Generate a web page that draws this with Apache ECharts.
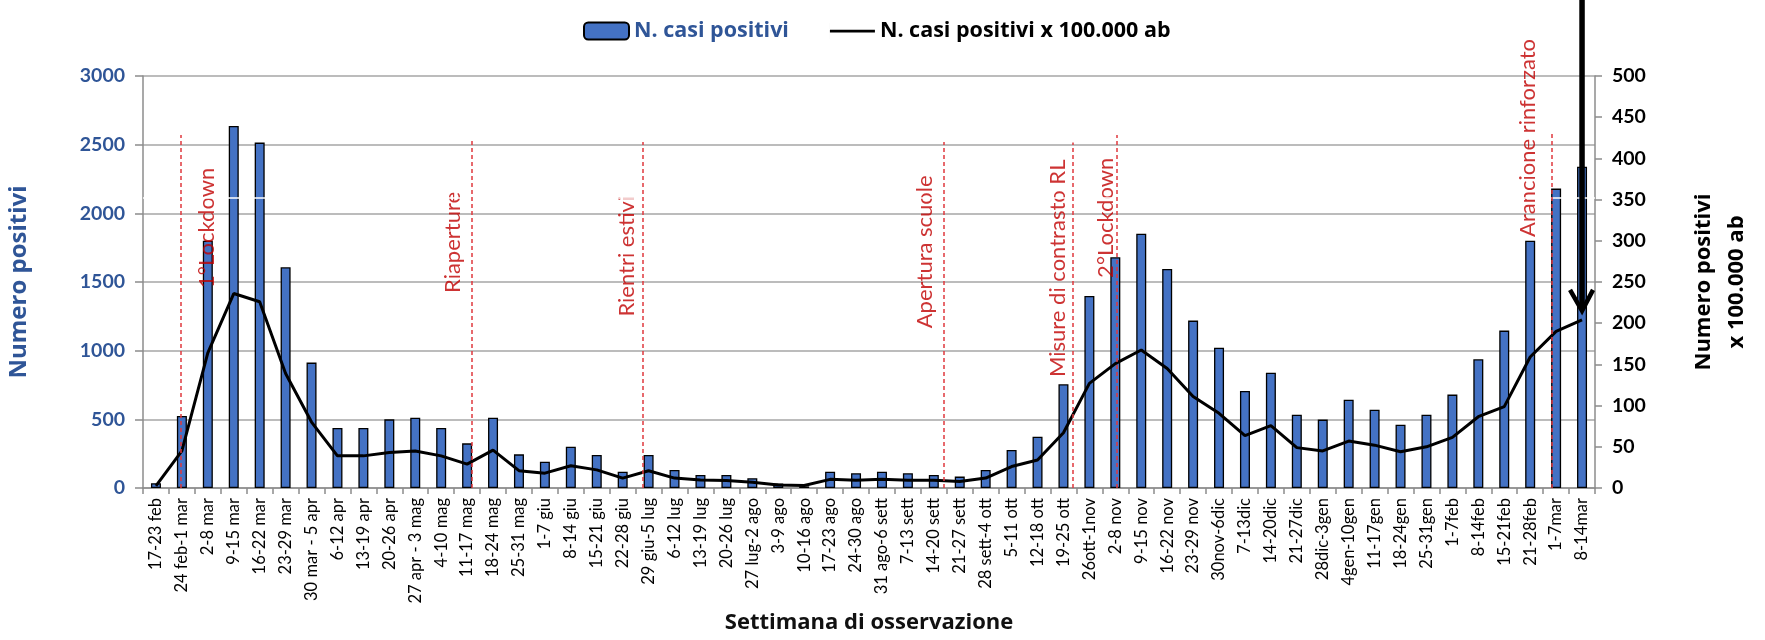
<!DOCTYPE html>
<html>
<head>
<meta charset="utf-8">
<title>N. casi positivi</title>
<script src="https://cdn.jsdelivr.net/npm/echarts@6/dist/echarts.min.js"></script>
<style>
  html, body { margin: 0; padding: 0; background: #fff; }
  #chart { width: 1765px; height: 640px; }
</style>
</head>
<body>
<div id="chart"></div>
<script>
  // settimane di osservazione
  var weeks = ['17-23 feb', '24 feb-1 mar', '2-8 mar', '9-15 mar', '16-22 mar', '23-29 mar', '30 mar - 5 apr',
    '6-12 apr', '13-19 apr', '20-26 apr', '27 apr - 3 mag', '4-10 mag', '11-17 mag', '18-24 mag', '25-31 mag',
    '1-7 giu', '8-14 giu', '15-21 giu', '22-28 giu', '29 giu-5 lug', '6-12 lug', '13-19 lug', '20-26 lug',
    '27 lug-2 ago', '3-9 ago', '10-16 ago', '17-23 ago', '24-30 ago', '31 ago-6 sett', '7-13 sett',
    '14-20 sett', '21-27 sett', '28 sett-4 ott', '5-11 ott', '12-18 ott', '19-25 ott', '26ott-1nov',
    '2-8 nov', '9-15 nov', '16-22 nov', '23-29 nov', '30nov-6dic', '7-13dic', '14-20dic', '21-27dic',
    '28dic-3gen', '4gen-10gen', '11-17gen', '18-24gen', '25-31gen', '1-7feb', '8-14feb', '15-21feb',
    '21-28feb', '1-7mar', '8-14mar'];

  // N. casi positivi (asse sx)
  var casi = [35, 525, 1800, 2636, 2515, 1607, 913, 437, 437, 500, 512, 437, 325, 512, 245,
    192, 301, 240, 119, 240, 131, 95, 95, 71, 33, 12, 119, 107, 119, 107,
    95, 83, 131, 277, 374, 755, 1398, 1680, 1852, 1595, 1219, 1022, 706, 840, 534,
    498, 643, 570, 461, 534, 680, 937, 1146, 1801, 2180, 2340];

  // N. casi positivi x 100.000 ab (asse dx)
  var casi100k = [2.5, 45, 164, 236, 226, 139, 80, 39, 39, 43, 45, 39, 29, 46, 21,
    18, 27, 22, 12, 21, 12, 9.7, 9, 7, 3.6, 3, 10.5, 9.5, 10.5, 9.5,
    9.5, 8, 12, 26, 34, 67, 127, 151, 167.5, 145, 111, 90.6, 63.5, 75.6, 49,
    45, 57, 52, 44, 50, 61.5, 86.5, 98.7, 159, 190, 204];

  // eventi: posizione sull'asse delle settimane (0 = inizio prima settimana)
  var eventNames = ['1°Lockdown', 'Riaperture', 'Rientri estivi', 'Apertura scuole',
    'Misure di contrasto RL', '2°Lockdown', 'Arancione rinforzato'];
  var eventAt = [1.47, 12.67, 19.28, 30.89, 35.87, 37.56, 54.34];
  var eventTop = [2570, 2535, 2520, 2520, 2515, 2570, 2585];
  var eventTextAt = [2.46, 11.94, 18.65, 30.16, 35.29, 37.14, 53.41];
  var eventTextFrom = [1457, 1420, 1248, 1163, 808, 1530, 1828];

  // freccia sull'ultima settimana
  var arrowWeek = '8-14mar';
  var arrowTip = 215;

  var leftTicks = {min: 0, max: 3000, interval: 500};
  var rightTicks = {min: 0, max: 500, interval: 50};

  var FONT = 'Lato';
  var FONT_B = 'Open Sans';
  var BLUE = '#2F5597';
  var GRID = '#A6A6A6';
  var AXIS = '#8c8c8c';

  var myChart = echarts.init(document.getElementById('chart'));

  var eventPoints = [];
  var eventLines = [];
  for (var i = 0; i < eventNames.length; i++) {
    eventPoints.push({name: eventNames[i], value: [eventTextAt[i], eventTextFrom[i]]});
    eventLines.push([{coord: [eventAt[i], 0]}, {coord: [eventAt[i], eventTop[i]]}]);
  }

  var option = {
    animation: false,
    textStyle: {fontFamily: FONT},
    legend: {
      left: 578,
      top: 15,
      itemWidth: 45,
      itemHeight: 17,
      itemGap: 41,
      textStyle: {fontFamily: FONT_B, fontSize: 21.5, fontWeight: 'bold'},
      data: [
        {name: 'N. casi positivi', textStyle: {color: BLUE}},
        {
          name: 'N. casi positivi x 100.000 ab',
          textStyle: {color: '#000'},
          // solo la linea, senza simbolo
          icon: 'path://M0,7.3h45v2.8h-45zM0,0h0.01v17h-0.01z'
        }
      ]
    },
    grid: {left: 143, right: 170, top: 76, bottom: 152, outerBoundsMode: 'none'},
    xAxis: [{
      type: 'category',
      data: weeks,
      name: 'Settimana di osservazione',
      nameLocation: 'middle',
      nameGap: 124,
      nameTextStyle: {fontFamily: FONT_B, fontSize: 22, fontWeight: 'bold', color: '#111'},
      axisLine: {lineStyle: {color: AXIS, width: 1.5}},
      axisTick: {show: true, interval: 0, length: 6, lineStyle: {color: AXIS, width: 1.5}},
      axisLabel: {interval: 0, rotate: 90, margin: 10, fontFamily: FONT, fontSize: 16.5, color: '#000'}
    }, {
      type: 'value',
      min: 0,
      max: weeks.length,
      show: false
    }],
    yAxis: [{
      type: 'value',
      min: leftTicks.min,
      max: leftTicks.max,
      interval: leftTicks.interval,
      name: 'Numero positivi',
      nameLocation: 'middle',
      nameRotate: 90,
      nameGap: 112,
      nameTextStyle: {fontFamily: FONT_B, fontSize: 24, fontWeight: 'bold', color: BLUE},
      axisLine: {show: true, lineStyle: {color: AXIS, width: 1.5}},
      axisTick: {show: true, length: 8, lineStyle: {color: AXIS, width: 1.5}},
      axisLabel: {
        margin: 18, fontFamily: FONT, fontSize: 19.5, fontWeight: 'bold', color: BLUE,
        formatter: function (v) { return String(v); }
      },
      splitLine: {lineStyle: {color: GRID, width: 1.5}}
    }, {
      type: 'value',
      position: 'right',
      min: rightTicks.min,
      max: rightTicks.max,
      interval: rightTicks.interval,
      name: 'Numero positivi\nx 100.000 ab',
      nameLocation: 'middle',
      nameRotate: 90,
      nameGap: 92,
      nameTextStyle: {fontFamily: FONT_B, fontSize: 22, fontWeight: 'bold', color: '#000', lineHeight: 33, align: 'center'},
      axisLine: {show: true, lineStyle: {color: AXIS, width: 1.5}},
      axisTick: {show: true, length: 7, lineStyle: {color: AXIS, width: 1.5}},
      axisLabel: {margin: 17, fontFamily: FONT, fontSize: 19.5, fontWeight: 'bold', color: '#000'},
      splitLine: {show: false}
    }],
    series: [{
      name: 'N. casi positivi',
      type: 'bar',
      barWidth: 10,
      itemStyle: {color: '#4472C4', borderColor: '#000', borderWidth: 1.3},
      data: casi
    }, {
      name: 'N. casi positivi x 100.000 ab',
      type: 'line',
      yAxisIndex: 1,
      symbol: 'none',
      lineStyle: {color: '#000', width: 3},
      itemStyle: {color: '#000'},
      data: casi100k,
      markLine: {
        silent: true,
        symbol: 'none',
        label: {show: false},
        lineStyle: {color: '#fff', width: 1.5, type: 'solid'},
        data: [{yAxis: 352}]
      }
    }, {
      name: 'eventi',
      type: 'scatter',
      xAxisIndex: 1,
      yAxisIndex: 0,
      silent: true,
      symbolSize: 0,
      data: eventPoints,
      label: {
        show: true,
        position: 'inside',
        rotate: 90,
        align: 'left',
        verticalAlign: 'middle',
        formatter: '{b}',
        fontFamily: FONT,
        fontSize: 22,
        color: '#C00000'
      },
      markLine: {
        silent: true,
        symbol: 'none',
        label: {show: false},
        lineStyle: {color: '#E0393E', width: 1.5, type: [4, 3]},
        data: eventLines
      }
    }]
  };
  myChart.setOption(option);

  // freccia nera verso l'ultima settimana
  var tip = myChart.convertToPixel({seriesIndex: 1}, [weeks.indexOf(arrowWeek), arrowTip]);
  myChart.setOption({
    graphic: [{
      type: 'group',
      silent: true,
      z: 100,
      children: [{
        type: 'line',
        z: 100,
        shape: {x1: tip[0], y1: -10, x2: tip[0], y2: tip[1] - 3},
        style: {stroke: '#000', lineWidth: 5.5}
      }, {
        type: 'polyline',
        z: 100,
        shape: {points: [[tip[0] - 12, tip[1] - 21], [tip[0], tip[1]], [tip[0] + 11, tip[1] - 21]]},
        style: {stroke: '#000', lineWidth: 4.5, fill: null}
      }]
    }]
  });
</script>
</body>
</html>
